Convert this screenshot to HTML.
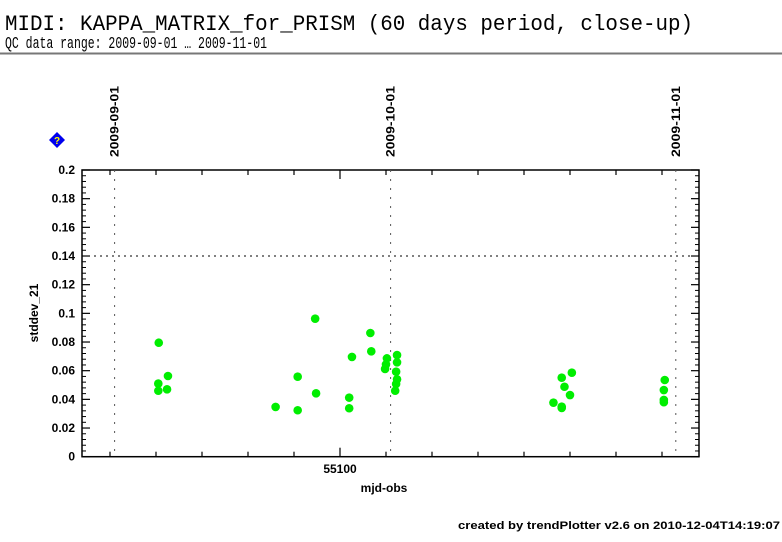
<!DOCTYPE html>
<html><head><meta charset="utf-8"><style>
body{margin:0;background:#fff;width:782px;height:542px;overflow:hidden}
svg{display:block}
</style></head><body>
<svg id="chart" width="782" height="542" viewBox="0 0 782 542" xmlns="http://www.w3.org/2000/svg">
<text x="5" y="30" font-family="Liberation Mono, monospace" font-size="22" textLength="688" lengthAdjust="spacingAndGlyphs" fill="#000">MIDI: KAPPA_MATRIX_for_PRISM (60 days period, close-up)</text>
<text x="5" y="48" font-family="Liberation Mono, monospace" font-size="17" textLength="262" lengthAdjust="spacingAndGlyphs" fill="#000">QC data range: 2009-09-01 … 2009-11-01</text>
<line x1="0" y1="53.5" x2="782" y2="53.5" stroke="#777" stroke-width="2"/>
<g>
<polygon points="57,132 65,140 57,148 49,140" fill="#0000ee"/>
<text x="57" y="144" text-anchor="middle" font-family="Liberation Sans, sans-serif" font-weight="bold" font-size="10" fill="#ff0">?</text>
</g>
<g id="plot"></g>
<text x="384" y="492" text-anchor="middle" font-family="Liberation Sans, sans-serif" font-weight="bold" font-size="12">mjd-obs</text>
<text transform="translate(38,313) rotate(-90)" text-anchor="middle" font-family="Liberation Sans, sans-serif" font-weight="bold" font-size="12">stddev_21</text>
<text x="458" y="529" textLength="322" lengthAdjust="spacingAndGlyphs" font-family="Liberation Sans, sans-serif" font-weight="bold" font-size="11">created by trendPlotter v2.6 on 2010-12-04T14:19:07</text>
</svg>
<script>
const xs=[55080.3,55080.25,55080.25,55081.3,55081.2,55093.0,55095.4,55095.4,55097.3,55097.4,55101.0,55101.0,55101.3,55103.3,55103.4,55105.1,55105.0,55104.9,55106.2,55106.2,55106.1,55106.2,55106.1,55106.0,55124.1,55125.2,55124.4,55125.0,55123.2,55124.1,55124.1,55135.3,55135.2,55135.2,55135.2];
const ys=[0.0795,0.051,0.046,0.0563,0.047,0.0347,0.0558,0.0324,0.0963,0.0442,0.0412,0.0338,0.0696,0.0863,0.0735,0.0686,0.0644,0.0612,0.0709,0.0658,0.0593,0.054,0.0507,0.046,0.0551,0.0586,0.0488,0.043,0.0377,0.0349,0.034,0.0535,0.0465,0.0396,0.038];
const yTicks=[0,0.02,0.04,0.06,0.08,0.1,0.12,0.14,0.16,0.18,0.2];
const yTickLabels=["0","0.02","0.04","0.06","0.08","0.1","0.12","0.14","0.16","0.18","0.2"];
const dateMjd=[55075.5,55105.5,55136.5];
const dateLabels=["2009-09-01","2009-10-01","2009-11-01"];
const xMajor=[55100];
const threshold=0.14;

const L=82,R=699,T=170,B=456.7;
const PX=9.2;
const sx=m=>340+(m-55100)*PX;
const sy=v=>B-(v/0.2)*(B-T);
const NS="http://www.w3.org/2000/svg";
const g=document.getElementById('plot');
function mk(t,a){const e=document.createElementNS(NS,t);for(const k in a)e.setAttribute(k,a[k]);g.appendChild(e);return e;}
const xMin=55071.7,xMax=55138.8;
let e=mk('rect',{x:L,y:T,width:R-L,height:B-T,fill:'none',stroke:'#000','stroke-width':1.5});


e=mk('line',{x1:L,x2:R,y1:sy(threshold),y2:sy(threshold),stroke:'#000','stroke-dasharray':'2,4','stroke-width':1});


dateMjd.forEach((m,i)=>{
  const x=sx(m);
  let l=mk('line',{x1:x,x2:x,y1:T,y2:B,stroke:'#555','stroke-dasharray':'2,7','stroke-width':1});
  
  
  let t=mk('text',{transform:`translate(${x+4},157) rotate(-90)`,'font-family':'Liberation Sans, sans-serif','font-weight':'bold','font-size':'12',textLength:71,lengthAdjust:'spacingAndGlyphs'});
  t.textContent=dateLabels[i];
  
  
});
for(let m=55100-25;m<=xMax;m+=5){
  if(m<xMin)continue;
  const x=sx(m);const len=xMajor.includes(m)?9:5;
  let t1=mk('line',{x1:x,x2:x,y1:B,y2:B-len,stroke:'#000','stroke-width':1.2});
  
  
  let t2=mk('line',{x1:x,x2:x,y1:T,y2:T+len,stroke:'#000','stroke-width':1.2});
  
  
}
xMajor.forEach(m=>{
  let t=mk('text',{x:sx(m),y:473,'text-anchor':'middle','font-family':'Liberation Sans, sans-serif','font-weight':'bold','font-size':'12'});
  t.textContent=String(m);
  
  
});
yTicks.forEach((v,i)=>{
  const y=sy(v);
  let a=mk('line',{x1:L,x2:L+8,y1:y,y2:y,stroke:'#000','stroke-width':1.2});
  
  
  let b=mk('line',{x1:R,x2:R-8,y1:y,y2:y,stroke:'#000','stroke-width':1.2});
  
  
  let t=mk('text',{x:75,y:y+4,'text-anchor':'end','font-family':'Liberation Sans, sans-serif','font-weight':'bold','font-size':'12'});
  t.textContent=yTickLabels[i];
  
  
  if(i<yTicks.length-1){for(let k=1;k<5;k++){const yy=sy(v+k*0.004);
    let c=mk('line',{x1:L,x2:L+4,y1:yy,y2:yy,stroke:'#000','stroke-width':1});
    
    
    let d=mk('line',{x1:R,x2:R-4,y1:yy,y2:yy,stroke:'#000','stroke-width':1});
    
    }}
});
xs.forEach((m,i)=>{
  let c=mk('circle',{cx:sx(m),cy:sy(ys[i]),r:4.3,fill:'#00ee00'});
  
  
});
</script>
</body></html>
